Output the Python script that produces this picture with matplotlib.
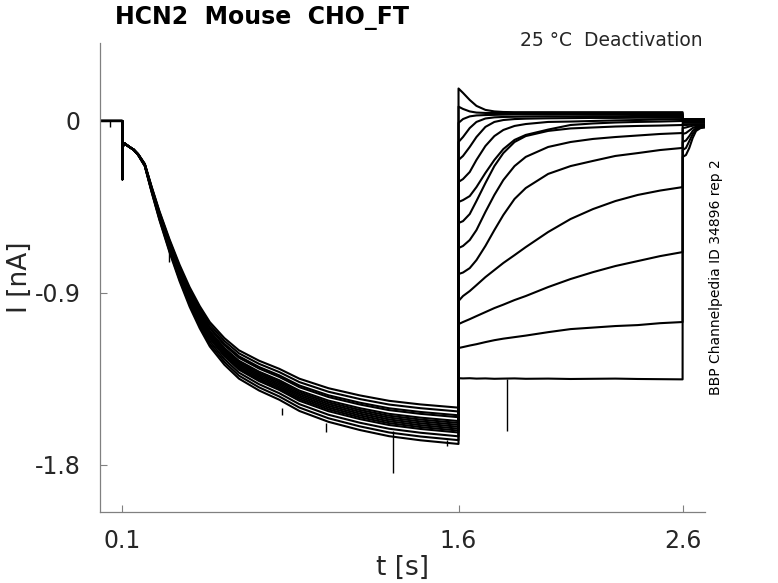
import numpy as np
import matplotlib
matplotlib.use("Agg")
import matplotlib.pyplot as plt

plt.rcParams['font.family'] = ['DejaVu Sans']
plt.rcParams['axes.unicode_minus'] = False

# holding level and step onset (nA, s)
hold_t = [0.0, 0.0995]
hold_I = [0.0, 0.0]
cap_spike = -0.305

# activating step, middle trace of the bundle
act_t = [0.1005, 0.11, 0.13, 0.15, 0.17, 0.2, 0.23, 0.265, 0.31, 0.355, 0.4, 0.445,
         0.49, 0.555, 0.62, 0.71, 0.8, 0.89, 1.02, 1.16, 1.29, 1.43, 1.6]
act_base = [-0.135, -0.118, -0.135, -0.150, -0.175, -0.230, -0.355, -0.492, -0.649, -0.791,
            -0.916, -1.021, -1.110, -1.199, -1.267, -1.325, -1.370, -1.425, -1.478, -1.518,
            -1.548, -1.568, -1.586]
# current reached at the end of the step, one per sweep
act_end = [-1.52, -1.50, -1.55, -1.58, -1.54, -1.60, -1.62, -1.57, -1.65, -1.59,
           -1.67, -1.63, -1.69, -1.61]

# tail currents, one row per sweep
tail_t = [1.6, 1.62, 1.65, 1.68, 1.72, 1.76, 1.8, 1.85, 1.9, 2.0, 2.1, 2.2, 2.3, 2.4, 2.5, 2.6]
tail_I = [
    [0.170, 0.147, 0.110, 0.079, 0.058, 0.050, 0.047, 0.046, 0.046, 0.046, 0.046, 0.046, 0.046, 0.046, 0.046, 0.046],
    [0.075, 0.063, 0.050, 0.044, 0.042, 0.042, 0.042, 0.042, 0.042, 0.042, 0.041, 0.041, 0.041, 0.041, 0.041, 0.041],
    [-0.010, 0.010, 0.024, 0.029, 0.031, 0.032, 0.033, 0.034, 0.034, 0.034, 0.034, 0.034, 0.034, 0.034, 0.034, 0.034],
    [-0.110, -0.084, -0.037, -0.005, 0.013, 0.019, 0.021, 0.022, 0.023, 0.024, 0.024, 0.025, 0.025, 0.026, 0.026, 0.026],
    [-0.204, -0.183, -0.136, -0.084, -0.031, -0.005, 0.005, 0.010, 0.012, 0.014, 0.015, 0.016, 0.016, 0.017, 0.017, 0.018],
    [-0.319, -0.304, -0.267, -0.204, -0.131, -0.079, -0.047, -0.026, -0.016, -0.005, -0.003, 0.000, 0.003, 0.005, 0.008, 0.010],
    [-0.424, -0.414, -0.393, -0.346, -0.272, -0.204, -0.147, -0.099, -0.073, -0.045, -0.021, -0.013, -0.008, -0.005, -0.003, 0.000],
    [-0.534, -0.524, -0.487, -0.419, -0.325, -0.236, -0.168, -0.110, -0.079, -0.052, -0.039, -0.034, -0.029, -0.026, -0.024, -0.021],
    [-0.665, -0.654, -0.623, -0.571, -0.476, -0.387, -0.309, -0.236, -0.188, -0.136, -0.110, -0.094, -0.084, -0.076, -0.068, -0.063],
    [-0.801, -0.793, -0.770, -0.728, -0.654, -0.571, -0.492, -0.408, -0.351, -0.277, -0.236, -0.209, -0.183, -0.168, -0.152, -0.141],
    [-0.942, -0.916, -0.890, -0.859, -0.817, -0.780, -0.743, -0.702, -0.660, -0.581, -0.513, -0.461, -0.419, -0.387, -0.364, -0.346],
    [-1.063, -1.052, -1.037, -1.021, -1.000, -0.979, -0.961, -0.937, -0.916, -0.869, -0.827, -0.791, -0.759, -0.733, -0.707, -0.686],
    [-1.188, -1.183, -1.175, -1.168, -1.157, -1.147, -1.139, -1.131, -1.123, -1.105, -1.089, -1.081, -1.073, -1.068, -1.058, -1.052],
    [-1.346, -1.347, -1.346, -1.348, -1.347, -1.349, -1.348, -1.347, -1.349, -1.348, -1.350, -1.349, -1.348, -1.350, -1.351, -1.352],
]

# back to holding
post_t = [2.6005, 2.615, 2.63, 2.645, 2.66, 2.68, 2.7]
post_I = [
    [0.010] * 7,
    [0.008] * 7,
    [0.005] * 7,
    [0.003] * 7,
    [0.000] * 7,
    [-0.003] * 7,
    [-0.005] * 7,
    [-0.010] * 7,
    [-0.021, -0.021, -0.020, -0.019, -0.018, -0.018, -0.018],
    [-0.037, -0.034, -0.029, -0.025, -0.023, -0.021, -0.021],
    [-0.068, -0.063, -0.050, -0.037, -0.030, -0.027, -0.026],
    [-0.110, -0.102, -0.079, -0.052, -0.037, -0.030, -0.029],
    [-0.152, -0.141, -0.105, -0.068, -0.045, -0.034, -0.031],
    [-0.188, -0.178, -0.141, -0.089, -0.052, -0.037, -0.034],
]

# short artefacts in the recordings: time, from, to
art_t = [0.043, 0.31, 0.81, 1.01, 1.307, 1.55, 1.815]
art_from = [0.0, -0.64, -1.50, -1.58, -1.62, -1.67, -1.35]
art_to = [-0.03, -0.74, -1.54, -1.63, -1.843, -1.70, -1.62]

fig = plt.figure(figsize=(7.78, 5.83), dpi=100)
ax = fig.add_axes([100 / 778, 71 / 583, 605 / 778, 469 / 583])

I0 = act_base[0]
for i in range(len(tail_I)):
    gain = (act_end[i] - I0) / (act_base[-1] - I0)
    act = [I0 + (v - I0) * gain for v in act_base]
    t = hold_t + [0.1] + act_t + tail_t + post_t
    y = hold_I + [cap_spike] + act + tail_I[i] + post_I[i]
    ax.plot(t, y, color='black', lw=1.5)

ax.vlines(art_t, art_from, art_to, color='black', lw=1.0)

ax.set_xlim(0, 2.7)
ax.set_ylim(-2.046, 0.408)
ax.set_xticks([0.1, 1.6, 2.6])
ax.set_xticklabels(['0.1', '1.6', '2.6'])
ax.set_yticks([0, -0.9, -1.8])
ax.set_yticklabels(['0', '-0.9', '-1.8'])

for s in ['top', 'right']:
    ax.spines[s].set_visible(False)
for s in ['left', 'bottom']:
    ax.spines[s].set_color('#808080')
    ax.spines[s].set_linewidth(0.9)
ax.tick_params(direction='in', length=5, color='#808080', labelsize=17,
               labelcolor='#262626')
ax.tick_params(axis='y', pad=14)
ax.tick_params(axis='x', pad=12)

ax.set_xlabel('t [s]', fontsize=19, color='#262626', va='center')
ax.set_ylabel('I [nA]', fontsize=19, color='#262626', va='center')
ax.xaxis.set_label_coords(0.5, (512 - 568) / 469)
ax.yaxis.set_label_coords((20 - 100) / 605, 0.5)

fig.text(115 / 778, 1 - 18 / 583, 'HCN2  Mouse  CHO_FT', fontsize=17,
         fontweight='bold', ha='left', va='center')
fig.text(703 / 778, 1 - 41 / 583, '25 °C  Deactivation', fontsize=13.5,
         ha='right', va='center', color='#262626')
fig.text(716 / 778, 1 - 277 / 583, 'BBP Channelpedia ID 34896 rep 2', fontsize=10,
         rotation=90, ha='center', va='center')

fig.savefig('out.png', dpi=100)
